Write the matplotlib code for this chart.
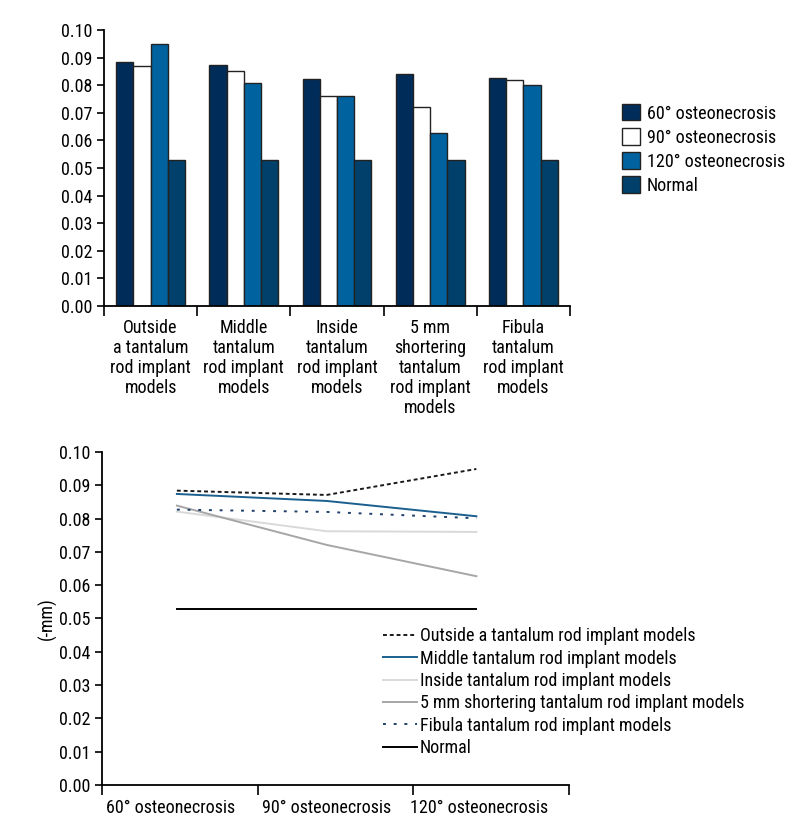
import matplotlib.pyplot as plt
import numpy as np

plt.rcParams['font.family'] = ['Roboto Condensed', 'DejaVu Sans']
plt.rcParams['font.size'] = 13

groups = ['Outside\na tantalum\nrod implant\nmodels',
          'Middle\ntantalum\nrod implant\nmodels',
          'Inside\ntantalum\nrod implant\nmodels',
          '5 mm\nshortering\ntantalum\nrod implant\nmodels',
          'Fibula\ntantalum\nrod implant\nmodels']
model_names = ['Outside a tantalum rod implant models',
               'Middle tantalum rod implant models',
               'Inside tantalum rod implant models',
               '5 mm shortering tantalum rod implant models',
               'Fibula tantalum rod implant models']
angles = ['60° osteonecrosis', '90° osteonecrosis', '120° osteonecrosis']

deg60 = [0.0884, 0.0874, 0.0821, 0.0839, 0.0827]
deg90 = [0.0871, 0.0853, 0.0762, 0.0721, 0.0820]
deg120 = [0.0949, 0.0807, 0.0760, 0.0627, 0.0801]
normal = [0.0530, 0.0530, 0.0530, 0.0530, 0.0530]

bar_colors = ['#002c5a', '#ffffff', '#0063a0', '#00406a']
line_colors = ['#1a1a1a', '#1b5f8e', '#d9d9d9', '#a6a6a6', '#1f3f6a']
line_styles = [(0, (2, 1.5)), '-', '-', '-', (0, (1.5, 4))]

fig = plt.figure(figsize=(8, 8.4), dpi=100)

# top: grouped bars
ax = fig.add_axes([0.13, 0.6357, 0.5825, 0.3286])
x = np.arange(len(groups))
w = 0.185
series = [deg60, deg90, deg120, normal]
labels = angles + ['Normal']
for i, (vals, c, lab) in enumerate(zip(series, bar_colors, labels)):
    ax.bar(x + (i - 1.5) * w, vals, w, color=c, edgecolor='#222222',
           linewidth=1.0, label=lab)
ax.set_xlim(-0.5, len(groups) - 0.5)
ax.set_ylim(0, 0.1)
ax.set_yticks(np.arange(0, 0.101, 0.01))
ax.set_yticklabels(['{:.2f}'.format(v) for v in np.arange(0, 0.101, 0.01)])
ax.set_xticks(np.arange(-0.5, len(groups), 1.0))
ax.set_xticklabels([])
ax.set_xticks(x, minor=True)
ax.set_xticklabels(groups, minor=True, linespacing=1.15)
ax.tick_params(axis='x', which='minor', length=0, pad=9)
ax.tick_params(axis='x', which='major', length=7, width=1.2)
ax.tick_params(axis='y', length=5, width=1.2)
for s in ['top', 'right']:
    ax.spines[s].set_visible(False)
for s in ['left', 'bottom']:
    ax.spines[s].set_linewidth(1.3)
fig.legend(loc='center left', bbox_to_anchor=(0.768, 0.822), frameon=False,
           handlelength=1.0, handleheight=1.0, handletextpad=0.4,
           labelspacing=0.32, borderaxespad=0)

# bottom: lines
ax2 = fig.add_axes([0.1275, 0.0655, 0.584, 0.3964])
xp = np.arange(len(angles))
for j in range(len(model_names)):
    vals = [deg60[j], deg90[j], deg120[j]]
    ax2.plot(xp, vals, color=line_colors[j], linestyle=line_styles[j],
             linewidth=1.4, label=model_names[j])
ax2.plot(xp, normal[:3], color='black', linewidth=1.4, label='Normal')
ax2.set_xlim(-0.5, 2.62)
ax2.set_ylim(0, 0.1)
ax2.set_yticks(np.arange(0, 0.101, 0.01))
ax2.set_yticklabels(['{:.2f}'.format(v) for v in np.arange(0, 0.101, 0.01)])
ax2.set_xticks(np.linspace(-0.5, 2.62, 4))
ax2.set_xticklabels([])
ax2.set_xticks([-0.04, 1.0, 2.02], minor=True)
ax2.set_xticklabels(angles, minor=True)
ax2.tick_params(axis='x', which='minor', length=0, pad=10)
ax2.tick_params(axis='x', which='major', length=7, width=1.2)
ax2.tick_params(axis='y', length=5, width=1.2)
ax2.set_ylabel('(-mm)', labelpad=1)
for s in ['top', 'right']:
    ax2.spines[s].set_visible(False)
for s in ['left', 'bottom']:
    ax2.spines[s].set_linewidth(1.3)
ax2.legend(loc='upper left', bbox_to_anchor=(0.585, 0.495), frameon=False,
           handlelength=1.9, handletextpad=0.15, labelspacing=0.24,
           borderaxespad=0)

plt.savefig('out.png', dpi=100)
